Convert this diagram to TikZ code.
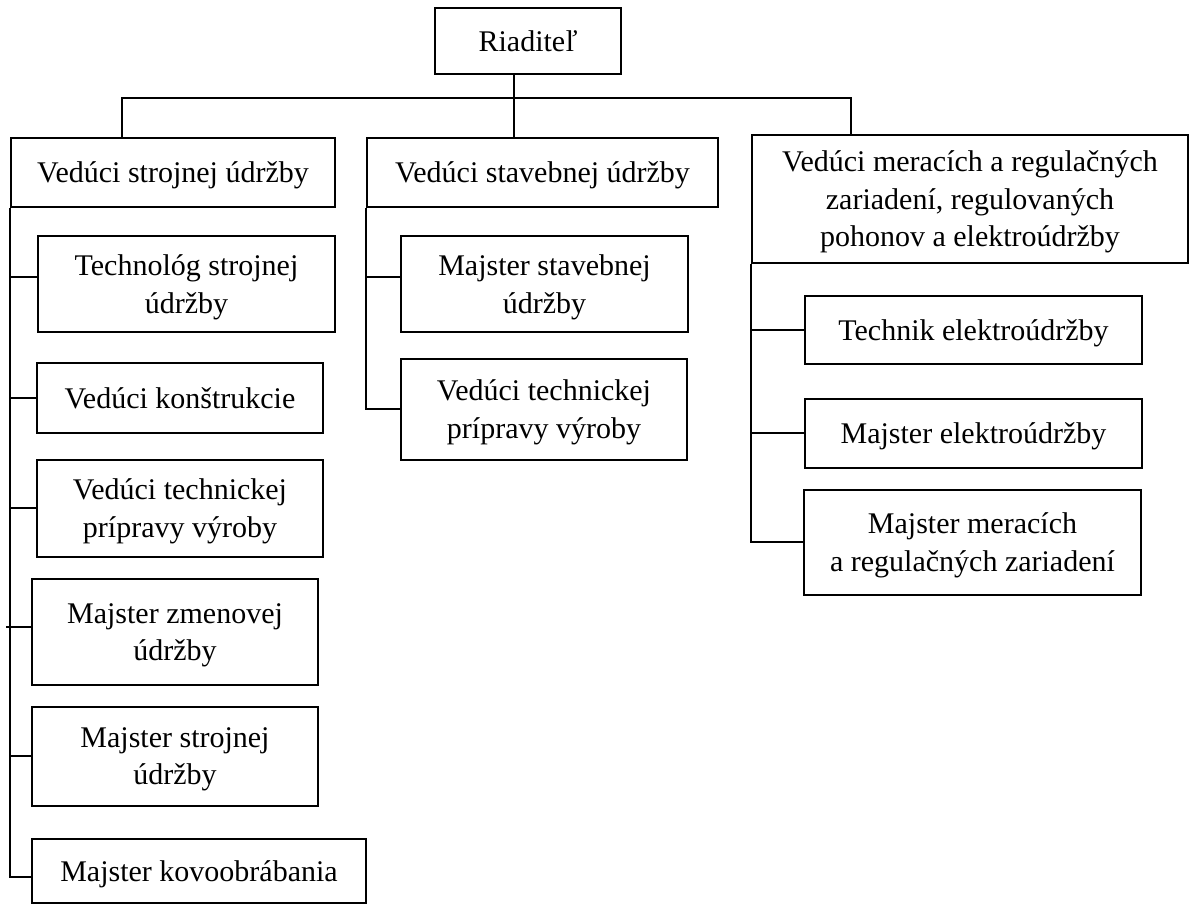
\documentclass[tikz,border=0pt]{standalone}
\usepackage{fontspec}
\setmainfont{Liberation Serif}
\usepackage{tikz}

\begin{document}
\begin{tikzpicture}[x=1pt,y=-1pt,line width=2pt,
    box/.style={draw, align=center, inner sep=0pt, text depth=0pt, font=\fontsize{30}{37.5}\selectfont},
    link/.style={line width=2pt}]
    \useasboundingbox (0,0) rectangle (1194,904);

    \node [box, minimum width=186, minimum height=66] (boss) at (528,41) {Riaditeľ};

    \node [box, minimum width=324, minimum height=69] (lead1) at (173,172.5) {Vedúci strojnej údržby};
    \node [box, minimum width=351, minimum height=69] (lead2) at (542.5,172.5) {Vedúci stavebnej údržby};
    \node [box, minimum width=436, minimum height=128] (lead3) at (970,199) {Vedúci meracích a regulačných\\zariadení, regulovaných\\pohonov a elektroúdržby};

    \node [box, minimum width=297, minimum height=95] (tech1) at (186.5,284) {Technológ strojnej\\údržby};
    \node [box, minimum width=286, minimum height=70] (kon) at (180,398) {Vedúci konštrukcie};
    \node [box, minimum width=286, minimum height=97] (tpv1) at (180,508) {Vedúci technickej\\prípravy výroby};
    \node [box, minimum width=286, minimum height=106] (zmen) at (175,632) {Majster zmenovej\\údržby};
    \node [box, minimum width=286, minimum height=99] (stroj) at (175,756) {Majster strojnej\\údržby};
    \node [box, minimum width=334, minimum height=64] (kovo) at (199,871) {Majster kovoobrábania};

    \node [box, minimum width=287, minimum height=96] (stav) at (544.5,284) {Majster stavebnej\\údržby};
    \node [box, minimum width=286, minimum height=101] (tpv2) at (544,409) {Vedúci technickej\\prípravy výroby};

    \node [box, minimum width=337, minimum height=68] (tel) at (973.5,330) {Technik elektroúdržby};
    \node [box, minimum width=337, minimum height=69] (mel) at (973.5,433) {Majster elektroúdržby};
    \node [box, minimum width=337, minimum height=105] (mmr) at (972.5,542) {Majster meracích\\a regulačných zariadení};

    \coordinate (bus) at (514,98);
    \draw [link] (boss.south -| bus) -- (lead2.north -| bus);
    \draw [link] (lead1.north -| 122,0) |- (bus) -| (lead3.north -| 851,0);

    \draw [link] (lead1.south west) |- ([yshift=-6pt]kovo.west);
    \draw [link] ([yshift=7pt]tech1.west) -- ([yshift=7pt]tech1.west -| lead1.west);
    \foreach \n in {kon,tpv1,stroj}
        \draw [link] (\n.west) -- (\n.west -| lead1.west);
    \draw [link] ([yshift=5pt]zmen.west) -- ++(-25,0);

    \draw [link] (lead2.south west) |- (tpv2.west);
    \draw [link] ([yshift=7pt]stav.west) -- ([yshift=7pt]stav.west -| lead2.west);

    \draw [link] (lead3.south west) |- (mmr.west);
    \foreach \n in {tel,mel}
        \draw [link] (\n.west) -- (\n.west -| lead3.west);
\end{tikzpicture}
\end{document}
